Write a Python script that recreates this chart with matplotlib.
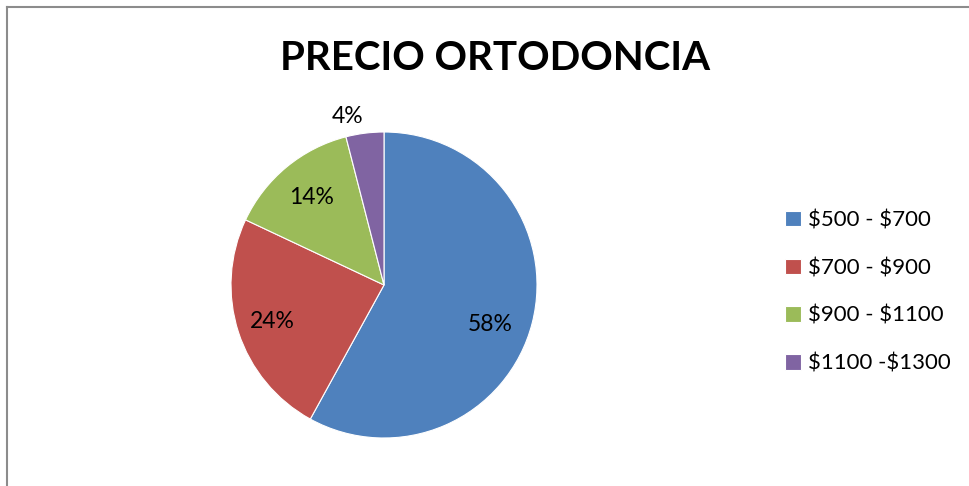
import numpy as np
import matplotlib
matplotlib.use('Agg')
import matplotlib.pyplot as plt
from matplotlib.lines import Line2D

plt.rcParams['font.family'] = ['Lato', 'DejaVu Sans']

# data
labels = ['$500 - $700', '$700 - $900', '$900 - $1100', '$1100 -$1300']
values = [58, 24, 14, 4]
colors = ['#4F81BD', '#C0504D', '#9BBB59', '#8064A2']
title = 'PRECIO ORTODONCIA'

W, H = 969, 486
fig = plt.figure(figsize=(W / 100, H / 100), dpi=100)

# pie centre (384, 285) px, radius 153 px, limits +-1.2
cx, cy, r, lim = 384, 285, 153, 1.2
size = 2 * lim * r
ax = fig.add_axes([(cx - size / 2) / W, (H - cy - size / 2) / H, size / W, size / H])

wedges, texts, autotexts = ax.pie(
    values, colors=colors, startangle=90, counterclock=False,
    autopct='%1.0f%%', pctdistance=0.75,
    wedgeprops=dict(edgecolor='white', linewidth=0.8),
    textprops=dict(fontsize=16.5, color='black'))
ax.set_xlim(-lim, lim)
ax.set_ylim(-lim, lim)
ax.set_aspect('auto')

# move the small slice label outside, nudge the big one like excel does
dist = [0.74, 0.765, 0.74, 1.13]
shift = [-6, 0, 0, 5]
for w, t, d, s in zip(wedges, autotexts, dist, shift):
    ang = np.deg2rad((w.theta1 + w.theta2) / 2 + s)
    t.set_position((d * np.cos(ang), d * np.sin(ang)))
    t.set_ha('center')
    t.set_va('center')

fig.text(495 / W, 1 - 58 / H, title, ha='center', va='center',
         fontsize=29, fontweight='bold')

leg_labels = [s.replace('$', r'\$') for s in labels]
leg = fig.legend(wedges, leg_labels, loc='center left',
                 bbox_to_anchor=(785 / W, 1 - 292 / H), frameon=False,
                 fontsize=16, handlelength=0.7, handleheight=0.7,
                 handletextpad=0.35, labelspacing=1.25, borderpad=0,
                 borderaxespad=0)

# chart frame (top and left edges visible)
fig.add_artist(Line2D([7 / W, 1], [1 - 7 / H, 1 - 7 / H], color='#8c8c8c', lw=1.5))
fig.add_artist(Line2D([7 / W, 7 / W], [0, 1 - 7 / H], color='#8c8c8c', lw=1.5))

fig.savefig('out.png', dpi=100)
